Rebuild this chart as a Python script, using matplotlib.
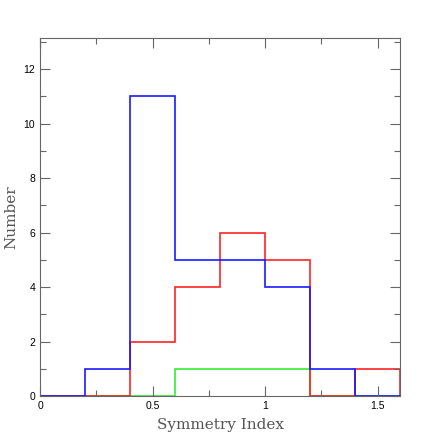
import matplotlib.pyplot as plt
from matplotlib.ticker import MultipleLocator

bin_edges = [0.0, 0.2, 0.4, 0.6, 0.8, 1.0, 1.2, 1.4, 1.6]
counts_blue = [0, 1, 11, 5, 5, 4, 1, 0]
counts_red = [0, 0, 2, 4, 6, 5, 0, 1]
counts_green = [0, 0, 0, 1, 1, 1, 0, 0]

fig = plt.figure(figsize=(4.36, 4.36), dpi=100)
ax = fig.add_axes([40 / 436, 40 / 436, 360 / 436, 358 / 436])

ax.stairs(counts_green, bin_edges, color='#33ee33', lw=1.2)
ax.stairs(counts_red, bin_edges, color='#ff2222', lw=1.2)
ax.stairs(counts_blue, bin_edges, color='#1a1aff', lw=1.2)

ax.set_xlim(0, 1.6)
ax.set_ylim(0, 13.14)

ax.xaxis.set_major_locator(MultipleLocator(0.5))
ax.xaxis.set_minor_locator(MultipleLocator(0.25))
ax.yaxis.set_major_locator(MultipleLocator(2))
ax.yaxis.set_minor_locator(MultipleLocator(1))
ax.set_xticks([0, 0.5, 1, 1.5], ['0', '0.5', '1', '1.5'])

for s in ax.spines.values():
    s.set_color('#666666')
    s.set_linewidth(0.8)
ax.tick_params(which='both', direction='in', top=True, right=True,
               color='#666666', labelsize=7.5, width=0.8)
ax.tick_params(which='major', length=7)
ax.tick_params(which='minor', length=4)
for lab in ax.get_xticklabels() + ax.get_yticklabels():
    lab.set_family('Liberation Sans')

ax.set_xlabel('Symmetry Index', family='DejaVu Serif', fontsize=11,
              color='#555555')
ax.set_ylabel('Number', family='DejaVu Serif', fontsize=11,
              color='#555555')
ax.xaxis.set_label_coords(0.5, -22 / 358)
ax.yaxis.set_label_coords(-22 / 360, 0.5)

fig.savefig('out.png', dpi=100)
